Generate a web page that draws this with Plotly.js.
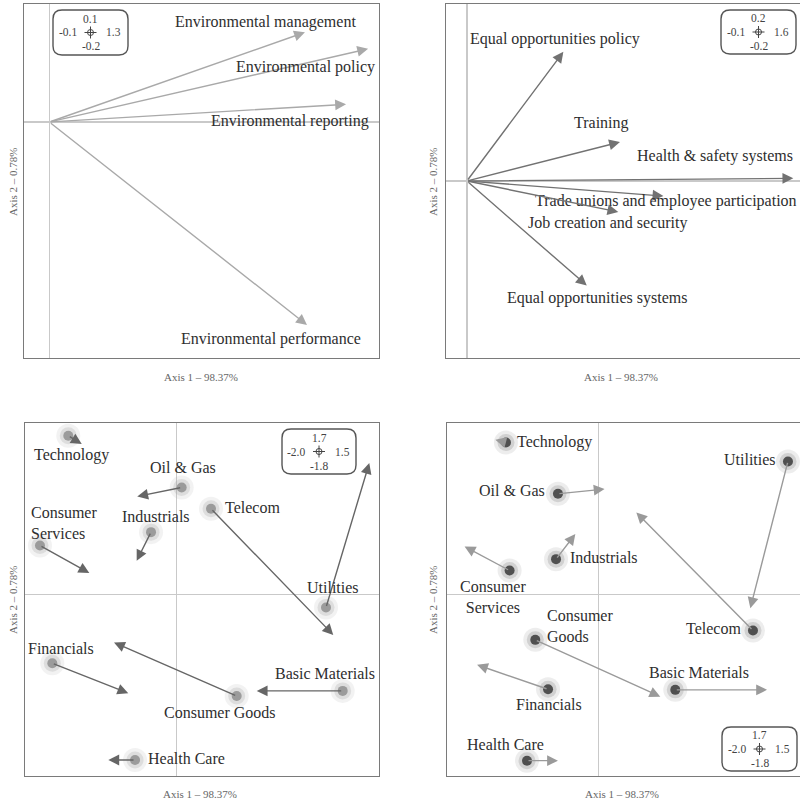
<!DOCTYPE html>
<html>
<head>
<meta charset="utf-8">
<script src="https://cdn.plot.ly/plotly-3.0.1.min.js"></script>
<style>html,body{margin:0;padding:0;background:#fff;overflow:hidden}#chart{width:800px;height:802px}</style>
</head>
<body>
<div id="chart"></div>
<script>
// ---------- DATA ----------
const axis1Title = 'Axis 1 – 98.37%';
const axis2Title = 'Axis 2 – 0.78%';

// Panel 1: environmental variables (arrow tips from origin)
const envVars = ['Environmental management', 'Environmental policy', 'Environmental reporting', 'Environmental performance'];
const envX = [1.008, 1.257, 1.170, 1.016];
const envY = [0.076, 0.062, 0.015, -0.172];

// Panel 2: social variables (arrow tips from origin)
const socVars = ['Equal opportunities policy', 'Training', 'Health & safety systems', 'Trade unions and employee participation', 'Job creation and security', 'Equal opportunities systems'];
const socX = [0.462, 0.733, 1.563, 0.941, 0.725, 0.574];
const socY = [0.146, 0.044, 0.003, -0.017, -0.035, -0.118];

// Sectors
const sectors = ['Technology', 'Oil & Gas', 'Telecom', 'Industrials', 'Consumer Services', 'Utilities', 'Financials', 'Consumer Goods', 'Basic Materials', 'Health Care'];

// Panel 3: sector points and arrow ends
const envSectorX = [-1.072, 0.049, 0.339, -0.254, -1.352, 1.476, -1.230, 0.593, 1.641, -0.412];
const envSectorY = [1.574, 1.061, 0.850, 0.618, 0.485, -0.130, -0.682, -1.006, -0.956, -1.641];
const envArrowX = [-0.939, -0.390, 1.548, -0.396, -0.864, 1.904, -0.479, -0.620, 0.791, -0.676];
const envArrowY = [1.492, 0.972, -0.401, 0.334, 0.212, 1.303, -0.979, -0.477, -0.956, -1.641];

// Panel 4: sector points and arrow ends
const socSectorX = [-0.917, -0.403, 1.525, -0.422, -0.881, 1.871, -0.501, -0.627, 0.757, -0.709];
const socSectorY = [1.507, 0.998, -0.358, 0.350, 0.237, 1.319, -0.940, -0.450, -0.946, -1.648];
const socArrowX = [-1.022, 0.058, 0.372, -0.231, -1.326, 1.499, -1.203, 0.609, 1.664, -0.403];
const socArrowY = [1.534, 1.045, 0.813, 0.599, 0.475, -0.136, -0.698, -1.013, -0.946, -1.648];

// Scale boxes: top, left, right, bottom
const boxTop = ['0.1', '0.2', '1.7', '1.7'];
const boxLeft = ['-0.1', '-0.1', '-2.0', '-2.0'];
const boxRight = ['1.3', '1.6', '1.5', '1.5'];
const boxBottom = ['-0.2', '-0.2', '-1.8', '-1.8'];

// ---------- STYLE / LAYOUT ----------
const W = 800, H = 802;
const px = v => v / W;
const py = v => 1 - v / H;
const serif = 'Liberation Serif, Times New Roman, serif';
const labelFont = {family: serif, size: 16, color: '#2e2e2e'};

const envLabelStyle = [
  {dx: -39, dy: 10}, {dx: -63, dy: -18}, {dx: -56, dy: -17}, {dx: -36, dy: -14}
];
const socLabelStyle = [
  {dx: -8, dy: 13}, {dx: -18, dy: 19}, {dx: -78, dy: 22}, {dx: 3, dy: -5}, {dx: -10, dy: -11}, {dx: 10, dy: -13}
];
const p3Labels = [
  {dx: 3, dy: -19, xa: 'center'},
  {dx: 1, dy: 20, xa: 'center'},
  {dx: 12, dy: 1, xa: 'left'},
  {dx: 5, dy: 16, xa: 'center'},
  {dx: -11, dy: 23, xa: 'left', text: 'Consumer<br>Services', align: 'left'},
  {dx: 7, dy: 20, xa: 'center'},
  {dx: 9, dy: 15, xa: 'center'},
  {dx: -17, dy: -17, xa: 'center'},
  {dx: -18, dy: 17, xa: 'center'},
  {dx: 11, dy: 1, xa: 'left'}
];
const p4Labels = [
  {dx: 9, dy: 0, xa: 'left'},
  {dx: -11, dy: 3, xa: 'right'},
  {dx: -10, dy: 2, xa: 'right'},
  {dx: 12, dy: 2, xa: 'left'},
  {dx: -17, dy: -26, xa: 'center', text: 'Consumer<br>Services', align: 'center'},
  {dx: -10, dy: 2, xa: 'right'},
  {dx: 1, dy: -15, xa: 'center'},
  {dx: 10, dy: 14, xa: 'left', text: 'Consumer<br>Goods', align: 'left'},
  {dx: 24, dy: 17, xa: 'center'},
  {dx: -22, dy: 16, xa: 'center'}
];

const baseAxis = {
  showgrid: false, showticklabels: false, ticks: '', zeroline: true,
  zerolinecolor: '#c9c9c9', zerolinewidth: 1.5, showline: true, mirror: true,
  linecolor: '#7a7a7a', linewidth: 1.3, fixedrange: true
};
const topDom = [py(358), py(4)];
const botDom = [py(776), py(423)];

const layout = {
  width: W, height: H, margin: {l: 0, r: 0, t: 0, b: 0},
  paper_bgcolor: '#fff', plot_bgcolor: '#fff', showlegend: false,
  xaxis: Object.assign({}, baseAxis, {domain: [px(24), px(379)], range: [-0.1, 1.3], anchor: 'y'}),
  yaxis: Object.assign({}, baseAxis, {domain: topDom, range: [-0.2, 0.1], anchor: 'x'}),
  xaxis2: Object.assign({}, baseAxis, {domain: [px(446), 1], range: [-0.1, 1.595], anchor: 'y2'}),
  yaxis2: Object.assign({}, baseAxis, {domain: topDom, range: [-0.2, 0.2], anchor: 'x2'}),
  xaxis3: Object.assign({}, baseAxis, {domain: [px(25), px(379)], range: [-1.5, 2.0], anchor: 'y3'}),
  yaxis3: Object.assign({}, baseAxis, {domain: botDom, range: [-1.8, 1.7], anchor: 'x3'}),
  xaxis4: Object.assign({}, baseAxis, {domain: [px(447), 1], range: [-1.5, 1.99], anchor: 'y4'}),
  yaxis4: Object.assign({}, baseAxis, {domain: botDom, range: [-1.8, 1.7], anchor: 'x4'}),
  annotations: [], shapes: []
};
const A = layout.annotations, S = layout.shapes;

function arrow(xr, yr, x0, y0, x1, y1, color) {
  A.push({xref: xr, yref: yr, axref: xr, ayref: yr, x: x1, y: y1, ax: x0, ay: y0,
    showarrow: true, arrowhead: 2, arrowsize: 1.55, arrowwidth: 1.4, arrowcolor: color,
    standoff: 0, startstandoff: 0, text: ''});
}
function label(xr, yr, x, y, text, st) {
  A.push({xref: xr, yref: yr, x: x, y: y, text: st.text || text, showarrow: false,
    xanchor: st.xa || 'center', yanchor: 'middle', align: st.align || 'center',
    xshift: st.dx, yshift: st.dy, font: labelFont});
}

// Panel 1
envVars.forEach((v, i) => {
  arrow('x', 'y', 0, 0, envX[i], envY[i], '#a9a9a9');
  label('x', 'y', envX[i], envY[i], v, envLabelStyle[i]);
});
// Panel 2
socVars.forEach((v, i) => {
  arrow('x2', 'y2', 0, 0, socX[i], socY[i], '#727272');
  label('x2', 'y2', socX[i], socY[i], v, socLabelStyle[i]);
});
// Panel 3
sectors.forEach((s, i) => {
  arrow('x3', 'y3', envSectorX[i], envSectorY[i], envArrowX[i], envArrowY[i], '#666');
  label('x3', 'y3', envSectorX[i], envSectorY[i], s, p3Labels[i]);
});
// Panel 4
sectors.forEach((s, i) => {
  arrow('x4', 'y4', socSectorX[i], socSectorY[i], socArrowX[i], socArrowY[i], '#9a9a9a');
  label('x4', 'y4', socSectorX[i], socSectorY[i], s, p4Labels[i]);
});

// Axis titles
const axFont = {family: serif, size: 11, color: '#666'};
[[201, 377], [621, 377], [200, 794], [622, 794]].forEach(p => {
  A.push({xref: 'paper', yref: 'paper', x: px(p[0]), y: py(p[1]), text: axis1Title, showarrow: false,
    xanchor: 'center', yanchor: 'middle', font: axFont});
});
[[13, 182], [433, 182], [13, 600], [433, 600]].forEach(p => {
  A.push({xref: 'paper', yref: 'paper', x: px(p[0]), y: py(p[1]), text: axis2Title, showarrow: false,
    textangle: -90, xanchor: 'center', yanchor: 'middle', font: axFont});
});

// Scale boxes
function roundRect(x0, y0, x1, y1, r) {
  const X = v => px(v).toFixed(5), Y = v => py(v).toFixed(5);
  return `M${X(x0 + r)},${Y(y0)} L${X(x1 - r)},${Y(y0)} Q${X(x1)},${Y(y0)} ${X(x1)},${Y(y0 + r)} ` +
    `L${X(x1)},${Y(y1 - r)} Q${X(x1)},${Y(y1)} ${X(x1 - r)},${Y(y1)} L${X(x0 + r)},${Y(y1)} ` +
    `Q${X(x0)},${Y(y1)} ${X(x0)},${Y(y1 - r)} L${X(x0)},${Y(y0 + r)} Q${X(x0)},${Y(y0)} ${X(x0 + r)},${Y(y0)} Z`;
}
const boxes = [[53, 10, 128, 55], [721, 10, 796, 54], [282, 429, 356, 474], [722, 727, 797, 771]];
const boxFont = {family: serif, size: 11.5, color: '#444'};
boxes.forEach((b, i) => {
  S.push({type: 'path', xref: 'paper', yref: 'paper', path: roundRect(b[0], b[1], b[2], b[3], 9),
    line: {color: '#555', width: 1.4}, fillcolor: 'rgba(0,0,0,0)'});
  const cx = (b[0] + b[2]) / 2, cy = (b[1] + b[3]) / 2;
  const t = (txt, x, y) => A.push({xref: 'paper', yref: 'paper', x: px(x), y: py(y), text: txt,
    showarrow: false, xanchor: 'center', yanchor: 'middle', font: boxFont});
  t(boxTop[i], cx, cy - 14);
  t(boxLeft[i], cx - 23, cy);
  t(boxRight[i], cx + 23, cy);
  t(boxBottom[i], cx, cy + 14);
  // crosshair icon
  S.push({type: 'circle', xref: 'paper', yref: 'paper', x0: px(cx - 3), x1: px(cx + 3), y0: py(cy + 3), y1: py(cy - 3),
    line: {color: '#444', width: 1}});
  S.push({type: 'line', xref: 'paper', yref: 'paper', x0: px(cx - 6), x1: px(cx + 6), y0: py(cy), y1: py(cy), line: {color: '#444', width: 1}});
  S.push({type: 'line', xref: 'paper', yref: 'paper', x0: px(cx), x1: px(cx), y0: py(cy - 6), y1: py(cy + 6), line: {color: '#444', width: 1}});
});

// Sector point traces with halo
function pointTraces(xs, ys, xa, ya, core, halo) {
  return [
    {x: xs, y: ys, xaxis: xa, yaxis: ya, mode: 'markers', hoverinfo: 'skip',
      marker: {size: 24, color: halo, opacity: 0.15, line: {width: 0}}},
    {x: xs, y: ys, xaxis: xa, yaxis: ya, mode: 'markers', hoverinfo: 'skip',
      marker: {size: 17, color: halo, opacity: 0.28, line: {width: 0}}},
    {x: xs, y: ys, xaxis: xa, yaxis: ya, mode: 'markers', text: sectors, hoverinfo: 'text',
      marker: {size: 10, color: core, line: {width: 0}}}
  ];
}
const data = [].concat(
  pointTraces(envSectorX, envSectorY, 'x3', 'y3', '#9b9b9b', '#aaaaaa'),
  pointTraces(socSectorX, socSectorY, 'x4', 'y4', '#505050', '#888888')
);

Plotly.newPlot('chart', data, layout, {displayModeBar: false, staticPlot: true});
</script>
</body>
</html>
